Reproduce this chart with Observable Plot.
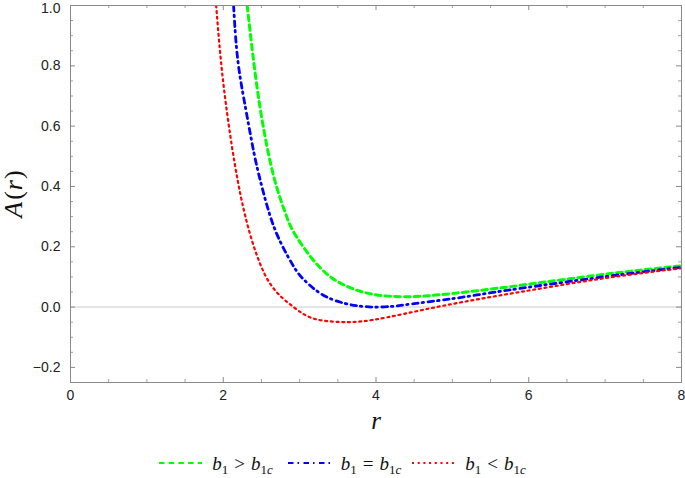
<!DOCTYPE html>
<html><head><meta charset="utf-8">
<script src="https://cdn.jsdelivr.net/npm/d3@7"></script>
<script src="https://cdn.jsdelivr.net/npm/@observablehq/plot@0.6"></script>
<style>
body{margin:0;background:#fff;}
#chart{width:685px;height:440px;}
.legend{display:flex;justify-content:center;align-items:center;height:32px;padding-top:7px;width:685px;font-family:"Liberation Serif","Times New Roman",serif;font-size:19px;color:#111;}
.item{display:flex;align-items:center;}
.item svg{margin-right:10px;}
.lab{white-space:nowrap;line-height:19px;}
.lab sub{font-size:13px;vertical-align:-4px;line-height:0;}
.op{margin:0 6px;font-style:normal;}
</style></head><body>
<div id="chart"></div>
<div class="legend" id="legend"></div>
<script>
// Series (r, A(r))
const rGreen=[2.313,2.405,2.51,2.662,2.815,2.92,3.14,3.38,3.6,3.84,4.09,4.34,4.59,4.84,5.21,5.61,6.0,7.0,8.0];
const aGreen=[1.0,0.801,0.619,0.432,0.311,0.25,0.168,0.105,0.071,0.049,0.038,0.034,0.036,0.041,0.051,0.063,0.076,0.109,0.137];
const rBlue=[2.135,2.19,2.29,2.40,2.49,2.597,2.737,2.924,3.06,3.30,3.58,3.77,3.97,4.19,4.39,4.80,5.19,5.59,6.0,7.0,8.0];
const aBlue=[1.0,0.82,0.663,0.514,0.415,0.316,0.222,0.134,0.09,0.041,0.013,0.004,0.0,0.002,0.008,0.021,0.035,0.051,0.066,0.101,0.132];
const rRed=[1.907,2.0,2.15,2.30,2.45,2.64,2.91,3.17,3.5,3.97,4.87,6.0,7.0,8.0];
const aRed=[1.0,0.745,0.476,0.29,0.165,0.068,0.002,-0.037,-0.049,-0.042,0.004,0.055,0.096,0.129];
const xMajor=[0,2,4,6,8];
const xMinor=[0.5,1,1.5,2.5,3,3.5,4.5,5,5.5,6.5,7,7.5];
const yMajor=[-0.2,0,0.2,0.4,0.6,0.8,1.0];
const yMinor=[-0.25,-0.15,-0.1,-0.05,0.05,0.1,0.15,0.25,0.3,0.35,0.45,0.5,0.55,0.65,0.7,0.75,0.85,0.9,0.95];
const legendLabels=[["b","1",">","b","1c"],["b","1","=","b","1c"],["b","1","<","b","1c"]];

const green=rGreen.map((r,i)=>({r,A:aGreen[i]}));
const blue=rBlue.map((r,i)=>({r,A:aBlue[i]}));
const red=rRed.map((r,i)=>({r,A:aRed[i]}));

const W=685,H=440,mT=5,mL=70,mR=4,mB=58;
const pW=W-mL-mR,pH=H-mT-mB;
const fmtY=d=>d.toFixed(1).replace("-","\u2212");
const tickC="#8a8a8a";
const styles={
  green:{stroke:"#00ff00",strokeWidth:3,strokeDasharray:"5.5,4.2"},
  blue:{stroke:"#0000ff",strokeWidth:2.8,strokeDasharray:"5.5,4,1.5,4.5"},
  red:{stroke:"#ff0000",strokeWidth:2.2,strokeDasharray:"2,3.7"}
};
const plot=Plot.plot({
  width:W,height:H,marginTop:mT,marginLeft:mL,marginRight:mR,marginBottom:mB,
  x:{domain:[0,8]},y:{domain:[-0.25,1]},
  style:{fontFamily:"'Liberation Sans',Arial,sans-serif",fontSize:"14px",color:"#222",background:"#fff"},
  marks:[
    Plot.ruleY([0],{stroke:"#dcdcdc",strokeWidth:1.5}),
    Plot.line(green,{x:"r",y:"A",...styles.green,curve:"natural",clip:true}),
    Plot.line(blue,{x:"r",y:"A",...styles.blue,curve:"natural",clip:true}),
    Plot.line(red,{x:"r",y:"A",...styles.red,curve:"natural",clip:true}),
    Plot.frame({stroke:tickC,strokeWidth:1}),
    Plot.tickY(yMajor,{y:d=>d,insetRight:pW-5,stroke:tickC}),
    Plot.tickY(yMinor,{y:d=>d,insetRight:pW-3,stroke:tickC,strokeOpacity:0.8}),
    Plot.tickY(yMajor,{y:d=>d,insetLeft:pW-5,stroke:tickC}),
    Plot.tickY(yMinor,{y:d=>d,insetLeft:pW-3,stroke:tickC,strokeOpacity:0.8}),
    Plot.tickX(xMajor,{x:d=>d,insetTop:pH-5,stroke:tickC}),
    Plot.tickX(xMinor,{x:d=>d,insetTop:pH-3,stroke:tickC,strokeOpacity:0.8}),
    Plot.tickX(xMajor,{x:d=>d,insetBottom:pH-5,stroke:tickC}),
    Plot.tickX(xMinor,{x:d=>d,insetBottom:pH-3,stroke:tickC,strokeOpacity:0.8}),
    Plot.axisY({ticks:yMajor.filter(d=>d<1),tickSize:0,tickPadding:10,tickFormat:fmtY,label:null}),
    Plot.axisY({ticks:yMajor.filter(d=>d>=1),tickSize:0,tickPadding:10,tickFormat:fmtY,label:null,dy:3}),
    Plot.axisX({ticks:xMajor,tickSize:0,tickPadding:8,tickFormat:d=>String(d),label:null}),
    Plot.text(["r"],{frameAnchor:"bottom",lineAnchor:"middle",textAnchor:"middle",dy:38,fontFamily:"'Liberation Serif',serif",fontStyle:"italic",fontSize:25,fill:"#111"}),
    Plot.text(["A(r)"],{frameAnchor:"left",lineAnchor:"middle",textAnchor:"middle",dx:-57,rotate:-90,fontFamily:"'Liberation Serif',serif",fontStyle:"italic",fontSize:26,fill:"#111"})
  ]
});
document.getElementById("chart").appendChild(plot);
d3.select(plot).selectAll("text").filter(function(){return this.textContent==="A(r)";}).each(function(){
  const t=d3.select(this);t.text("");
  [["A","italic",0],["(","normal",2],["r","italic",1],[")","normal",1]].forEach(([s,f,dx])=>t.append("tspan").attr("font-style",f).attr("dx",dx).text(s));
});
// legend
const lg=document.getElementById("legend");
const keys=["green","blue","red"];
const gaps=[0,15,11];
const esc=s=>s.replace("&","&amp;").replace(">","&gt;").replace("<","&lt;");
keys.forEach((k,i)=>{
  const it=document.createElement("div");it.className="item";it.style.marginLeft=gaps[i]+"px";
  const s=styles[k];
  it.innerHTML=`<svg width="43" height="10"><line x1="0" y1="5" x2="43" y2="5" stroke="${s.stroke}" stroke-width="2" stroke-dasharray="${s.strokeDasharray}"/></svg>`;
  const L=legendLabels[i];
  const sp=document.createElement("span");sp.className="lab";
  sp.innerHTML=`<i>${L[0]}</i><sub>${L[1]}</sub><span class="op">${esc(L[2])}</span><i>${L[3]}</i><sub>${L[4].replace("c","<i>c</i>")}</sub>`;
  it.appendChild(sp);lg.appendChild(it);
});
</script>
</body></html>
